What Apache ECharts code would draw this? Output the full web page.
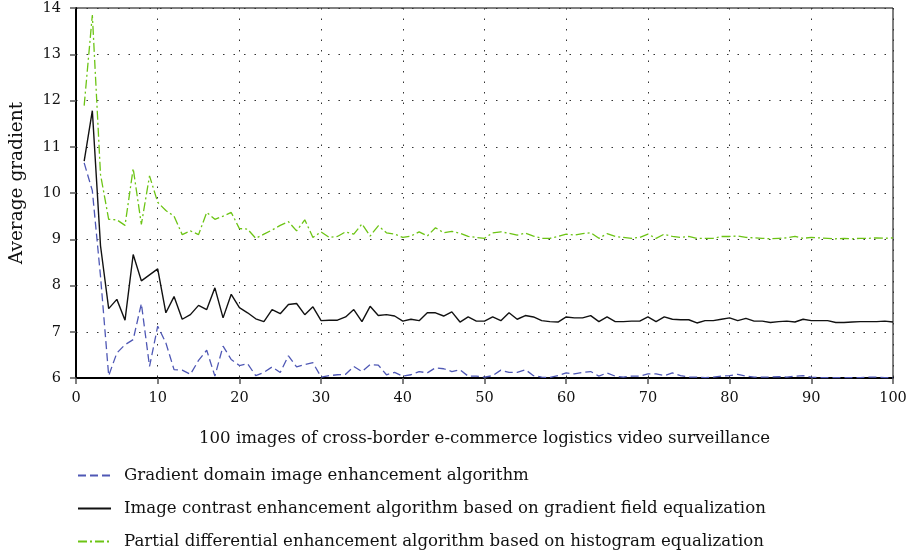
<!DOCTYPE html>
<html>
<head>
<meta charset="utf-8">
<script src="https://cdn.jsdelivr.net/npm/echarts@6/dist/echarts.min.js"></script>
<style>html,body{margin:0;padding:0;background:#fff}#c{width:909px;height:558px}</style>
</head>
<body>
<div id="c"></div>
<script>
const seriesNames = [
  'Gradient domain image enhancement algorithm',
  'Image contrast enhancement algorithm based on gradient field equalization',
  'Partial differential enhancement algorithm based on histogram equalization'
];
const xTicks = [0,10,20,30,40,50,60,70,80,90,100];
const yTicks = [6,7,8,9,10,11,12,13,14];
const gradientDomain = [
10.65,10.05,8.2,6.05,6.54,6.72,6.83,7.61,6.25,7.12,
6.76,6.18,6.17,6.08,6.38,6.6,6.04,6.69,6.4,6.27,
6.31,6.05,6.12,6.24,6.12,6.48,6.24,6.29,6.33,6.02,
6.05,6.07,6.08,6.25,6.14,6.29,6.28,6.07,6.12,6.04,
6.07,6.14,6.11,6.22,6.2,6.14,6.18,6.04,6.04,6.02,
6.05,6.17,6.12,6.12,6.18,6.05,6.02,6.01,6.05,6.11,
6.09,6.12,6.14,6.04,6.11,6.04,6.02,6.04,6.04,6.09,
6.09,6.05,6.11,6.05,6.02,6.02,6.01,6.02,6.04,6.05,
6.08,6.04,6.02,6.02,6.02,6.03,6.02,6.04,6.05,6.02,
6.01,6.01,6.01,6.01,6.01,6.01,6.02,6.02,6.01,6.01];
const contrastField = [
10.69,11.78,8.86,7.5,7.7,7.25,8.67,8.1,8.23,8.36,
7.41,7.76,7.27,7.37,7.57,7.48,7.95,7.3,7.81,7.52,
7.41,7.28,7.22,7.48,7.39,7.59,7.61,7.37,7.54,7.24,
7.25,7.25,7.32,7.48,7.22,7.55,7.35,7.37,7.34,7.23,
7.27,7.24,7.41,7.41,7.34,7.43,7.21,7.32,7.23,7.23,
7.32,7.24,7.41,7.27,7.35,7.32,7.24,7.22,7.21,7.32,
7.3,7.3,7.35,7.22,7.32,7.22,7.22,7.23,7.23,7.32,
7.22,7.32,7.27,7.26,7.26,7.19,7.24,7.24,7.27,7.3,
7.24,7.29,7.23,7.23,7.2,7.22,7.23,7.21,7.27,7.24,
7.24,7.24,7.2,7.2,7.21,7.22,7.22,7.22,7.23,7.21];
const partialDiff = [
11.89,13.85,10.4,9.43,9.42,9.3,10.53,9.32,10.37,9.8,
9.62,9.5,9.1,9.18,9.1,9.58,9.43,9.5,9.58,9.23,
9.22,9.02,9.11,9.2,9.3,9.38,9.18,9.42,9.04,9.16,
9.04,9.06,9.16,9.11,9.33,9.07,9.29,9.14,9.11,9.04,
9.07,9.16,9.07,9.25,9.14,9.17,9.13,9.06,9.04,9.02,
9.14,9.16,9.13,9.09,9.13,9.07,9.02,9.02,9.06,9.11,
9.09,9.12,9.14,9.02,9.12,9.06,9.04,9.02,9.04,9.11,
9.02,9.11,9.06,9.04,9.06,9.02,9.02,9.02,9.06,9.06,
9.07,9.04,9.03,9.02,9.01,9.02,9.03,9.06,9.02,9.04,
9.03,9.02,9.01,9.02,9.01,9.02,9.02,9.03,9.02,9.03];

const FONT = 'DejaVu Serif';
const pairs = arr => arr.map((v, i) => [i + 1, v]);
const chart = echarts.init(document.getElementById('c'), null, {renderer: 'canvas'});
const gridLine = {show: true, lineStyle: {color: '#333', type: [1.5, 9], width: 1}};
chart.setOption({
  animation: false,
  backgroundColor: '#fff',
  textStyle: {fontFamily: FONT},
  grid: {left: 76, right: 16, top: 8, bottom: 180, show: true, borderColor: '#000', borderWidth: 1,
         containLabel: false, outerBoundsMode: 'none'},
  xAxis: {
    type: 'value', min: xTicks[0], max: xTicks[xTicks.length - 1], interval: 10,
    name: '100 images of cross-border e-commerce logistics video surveillance',
    nameLocation: 'middle', nameGap: 52,
    nameTextStyle: {fontFamily: FONT, fontSize: 16.6, color: '#111'},
    axisLine: {show: true, onZero: false, lineStyle: {color: '#000', width: 2}},
    axisTick: {show: true, length: 6, lineStyle: {color: '#555', width: 1.5}},
    axisLabel: {fontFamily: FONT, fontSize: 14.5, color: '#111', margin: 13},
    splitLine: gridLine
  },
  yAxis: {
    type: 'value', min: yTicks[0], max: yTicks[yTicks.length - 1], interval: 1,
    name: 'Average gradient', nameLocation: 'middle', nameGap: 49, nameRotate: 90,
    nameTextStyle: {fontFamily: FONT, fontSize: 18.5, color: '#111', padding: [0, 0, 0, 20]},
    axisLine: {show: true, lineStyle: {color: '#000', width: 2}},
    axisTick: {show: true, length: 6, lineStyle: {color: '#555', width: 1.5}},
    axisLabel: {fontFamily: FONT, fontSize: 14.5, color: '#111', margin: 15},
    splitLine: gridLine
  },
  legend: {
    orient: 'vertical', left: 77, top: 467, padding: 0, itemGap: 16, itemWidth: 33, itemHeight: 18,
    textStyle: {fontFamily: FONT, fontSize: 16.6, color: '#111', padding: [0, 0, 0, 8]},
    itemStyle: {color: 'rgba(0,0,0,0)', borderWidth: 0, opacity: 0},
    data: seriesNames
  },
  series: [
    {name: seriesNames[0], type: 'line', data: pairs(gradientDomain), symbol: 'none',
     lineStyle: {color: '#4f58b5', width: 1.3, type: [8, 4]}, itemStyle: {color: '#4f58b5'}},
    {name: seriesNames[1], type: 'line', data: pairs(contrastField), symbol: 'none',
     lineStyle: {color: '#111', width: 1.4, type: 'solid'}, itemStyle: {color: '#111'}},
    {name: seriesNames[2], type: 'line', data: pairs(partialDiff), symbol: 'none',
     lineStyle: {color: '#6cc414', width: 1.3, type: [9, 3, 2, 3]}, itemStyle: {color: '#6cc414'}}
  ]
});
</script>
</body>
</html>
